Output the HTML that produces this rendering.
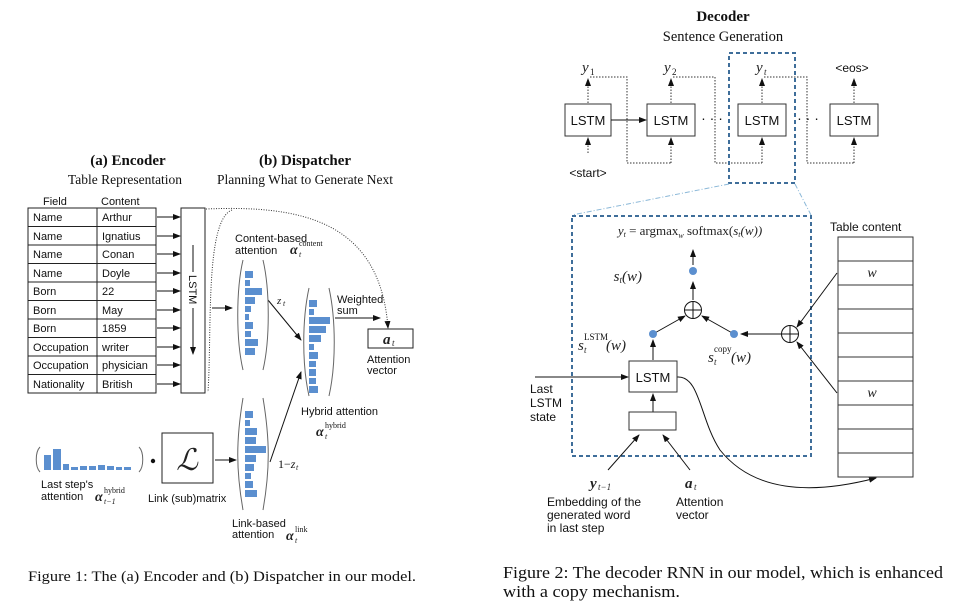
<!DOCTYPE html>
<html><head><meta charset="utf-8"><style>
body{margin:0;background:#fff}
svg{display:block}
.s{font-family:"Liberation Sans",sans-serif;fill:#111}
.r{font-family:"Liberation Serif",serif;fill:#111}
.m{font-family:"Liberation Serif",serif;font-style:italic;fill:#222}
.b{fill:#5b8fcf}
</style></head><body>
<svg width="967" height="612" viewBox="0 0 967 612" xmlns="http://www.w3.org/2000/svg">
<defs>
<marker id="a" markerWidth="8" markerHeight="6" refX="7" refY="3" orient="auto" markerUnits="userSpaceOnUse"><path d="M0,0 L8,3 L0,6 Z" fill="#111"/></marker>
</defs>
<!-- ===== Figure 1 ===== -->
<text class="r" x="128" y="165" font-size="15" font-weight="bold" text-anchor="middle">(a) Encoder</text>
<text class="r" x="125" y="184" font-size="13.5" text-anchor="middle">Table Representation</text>
<text class="r" x="305" y="165" font-size="15" font-weight="bold" text-anchor="middle">(b) Dispatcher</text>
<text class="r" x="305" y="184" font-size="13.5" text-anchor="middle">Planning What to Generate Next</text>
<text class="s" x="43" y="205" font-size="11">Field</text>
<text class="s" x="101" y="205" font-size="11">Content</text>
<g stroke="#222" stroke-width="1" fill="none">
<rect x="28" y="208" width="128" height="185"/>
<line x1="97" y1="208" x2="97" y2="393"/>
<path d="M28,226.5H156M28,245H156M28,263.5H156M28,282H156M28,300.5H156M28,319H156M28,337.5H156M28,356H156M28,374.5H156"/>
<rect x="181" y="208" width="24" height="185"/>
</g>
<g class="s" font-size="11">
<text x="33" y="221">Name</text><text x="102" y="221">Arthur</text>
<text x="33" y="240">Name</text><text x="102" y="240">Ignatius</text>
<text x="33" y="258">Name</text><text x="102" y="258">Conan</text>
<text x="33" y="277">Name</text><text x="102" y="277">Doyle</text>
<text x="33" y="295">Born</text><text x="102" y="295">22</text>
<text x="33" y="314">Born</text><text x="102" y="314">May</text>
<text x="33" y="332">Born</text><text x="102" y="332">1859</text>
<text x="33" y="351">Occupation</text><text x="102" y="351">writer</text>
<text x="33" y="369">Occupation</text><text x="102" y="369">physician</text>
<text x="33" y="388">Nationality</text><text x="102" y="388">British</text>
</g>
<g stroke="#111" stroke-width="1" marker-end="url(#a)">
<line x1="157" y1="217" x2="180" y2="217"/><line x1="157" y1="236" x2="180" y2="236"/>
<line x1="157" y1="254" x2="180" y2="254"/><line x1="157" y1="273" x2="180" y2="273"/>
<line x1="157" y1="291" x2="180" y2="291"/><line x1="157" y1="310" x2="180" y2="310"/>
<line x1="157" y1="328" x2="180" y2="328"/><line x1="157" y1="347" x2="180" y2="347"/>
<line x1="157" y1="365" x2="180" y2="365"/><line x1="157" y1="384" x2="180" y2="384"/>
<line x1="193" y1="245" x2="193" y2="354"/>
<line x1="212" y1="308" x2="232" y2="308"/>
<line x1="268" y1="300" x2="301" y2="340"/>
<line x1="270" y1="462" x2="301" y2="372"/>
<line x1="335" y1="318" x2="380" y2="318"/>
<line x1="215" y1="460" x2="236" y2="460"/>
</g>
<rect x="184" y="272" width="18" height="36" fill="#fff"/>
<text class="s" font-size="11" transform="translate(189,275) rotate(90)">LSTM</text>
<g fill="none" stroke="#333" stroke-width="1" stroke-dasharray="1,1.5">
<path d="M206,209 C300,205 380,220 388,328" marker-end="url(#a)"/>
<path d="M232,210 C205,220 212,330 208,392"/>
</g>
<g fill="none" stroke="#666" stroke-width="1">
<path d="M243,260 C236,290 236,340 243,370"/><path d="M263,260 C270,290 270,340 263,370"/>
<path d="M309,288 C302,320 302,365 309,396"/><path d="M329,288 C336,320 336,365 329,396"/>
<path d="M243,398 C236,440 236,470 243,510"/><path d="M263,398 C270,440 270,470 263,510"/>
<path d="M40,447 C35,452 35,467 40,472"/><path d="M139,447 C144,452 144,467 139,472"/>
</g>
<g class="b">
<rect x="245" y="271" width="8" height="7"/><rect x="245" y="280" width="5" height="6"/>
<rect x="245" y="288" width="17" height="7"/><rect x="245" y="297" width="10" height="7"/>
<rect x="245" y="306" width="6" height="6"/><rect x="245" y="314" width="4" height="6"/>
<rect x="245" y="322" width="8" height="7"/><rect x="245" y="331" width="6" height="6"/>
<rect x="245" y="339" width="13" height="7"/><rect x="245" y="348" width="10" height="7"/>
<rect x="309" y="300" width="8" height="7"/><rect x="309" y="309" width="5" height="6"/>
<rect x="309" y="317" width="21" height="7"/><rect x="309" y="326" width="17" height="7"/>
<rect x="309" y="335" width="12" height="7"/><rect x="309" y="344" width="5" height="6"/>
<rect x="309" y="352" width="9" height="7"/><rect x="309" y="361" width="7" height="6"/>
<rect x="309" y="369" width="7" height="7"/><rect x="309" y="378" width="7" height="6"/>
<rect x="309" y="386" width="9" height="7"/>
<rect x="245" y="411" width="8" height="7"/><rect x="245" y="420" width="5" height="6"/>
<rect x="245" y="428" width="12" height="7"/><rect x="245" y="437" width="11" height="7"/>
<rect x="245" y="446" width="21" height="7"/><rect x="245" y="455" width="11" height="7"/>
<rect x="245" y="464" width="9" height="7"/><rect x="245" y="473" width="6" height="6"/>
<rect x="245" y="481" width="8" height="7"/><rect x="245" y="490" width="12" height="7"/>
<rect x="44" y="455" width="7" height="15"/><rect x="53" y="449" width="8" height="21"/>
<rect x="63" y="464" width="6" height="6"/><rect x="71" y="467" width="7" height="3"/>
<rect x="80" y="466" width="7" height="4"/><rect x="89" y="466" width="7" height="4"/>
<rect x="98" y="465" width="7" height="5"/><rect x="107" y="466" width="7" height="4"/>
<rect x="116" y="467" width="6" height="3"/><rect x="124" y="467" width="7" height="3"/>
</g>
<text class="s" x="235" y="242" font-size="11">Content-based</text>
<text class="s" x="235" y="254" font-size="11">attention</text>
<text class="m" x="290" y="254" font-size="14" font-weight="bold">α</text>
<text class="m" x="299" y="257" font-size="8">t</text>
<text class="r" x="299" y="246" font-size="8">content</text>
<text class="m" x="277" y="304" font-size="11">z</text><text class="m" x="283" y="306" font-size="8">t</text>
<text class="s" x="337" y="303" font-size="11">Weighted</text>
<text class="s" x="337" y="314" font-size="11">sum</text>
<rect x="368" y="329" width="45" height="19" fill="none" stroke="#222"/>
<text class="m" x="383" y="344" font-size="15" font-weight="bold">a</text><text class="m" x="392" y="346" font-size="9">t</text>
<text class="s" x="367" y="363" font-size="11">Attention</text>
<text class="s" x="367" y="374" font-size="11">vector</text>
<text class="s" x="301" y="415" font-size="11">Hybrid attention</text>
<text class="m" x="316" y="436" font-size="14" font-weight="bold">α</text>
<text class="m" x="325" y="439" font-size="8">t</text>
<text class="r" x="325" y="428" font-size="8">hybrid</text>
<text class="r" x="278" y="468" font-size="12">1−<tspan font-style="italic">z</tspan></text><text class="m" x="296" y="470" font-size="8">t</text>
<circle cx="153" cy="461" r="2.2" fill="#111"/>
<rect x="162" y="433" width="51" height="50" fill="none" stroke="#222"/>
<text class="m" x="187" y="470" font-size="30" text-anchor="middle">ℒ</text>
<text class="s" x="41" y="488" font-size="11">Last step's</text>
<text class="s" x="41" y="500" font-size="11">attention</text>
<text class="m" x="95" y="501" font-size="14" font-weight="bold">α</text>
<text class="m" x="104" y="504" font-size="8">t−1</text>
<text class="r" x="104" y="493" font-size="8">hybrid</text>
<text class="s" x="148" y="502" font-size="11">Link (sub)matrix</text>
<text class="s" x="232" y="527" font-size="11">Link-based</text>
<text class="s" x="232" y="538" font-size="11">attention</text>
<text class="m" x="286" y="540" font-size="14" font-weight="bold">α</text>
<text class="m" x="295" y="543" font-size="8">t</text>
<text class="r" x="295" y="532" font-size="8">link</text>
<text class="r" x="28" y="581" font-size="15" textLength="388" lengthAdjust="spacingAndGlyphs">Figure 1: The (a) Encoder and (b) Dispatcher in our model.</text>

<!-- ===== Figure 2 ===== -->
<text class="r" x="723" y="21" font-size="15" font-weight="bold" text-anchor="middle">Decoder</text>
<text class="r" x="723" y="41" font-size="14.5" text-anchor="middle">Sentence Generation</text>
<g fill="none" stroke="#333">
<rect x="565" y="104" width="46" height="32"/><rect x="647" y="104" width="48" height="32"/>
<rect x="738" y="104" width="48" height="32"/><rect x="830" y="104" width="48" height="32"/>
</g>
<g class="s" font-size="13" text-anchor="middle">
<text x="588" y="125">LSTM</text><text x="671" y="125">LSTM</text><text x="762" y="125">LSTM</text><text x="854" y="125">LSTM</text>
</g>
<g class="m" font-size="15">
<text x="582" y="72">y</text><text x="664" y="72">y</text><text x="756" y="72">y</text>
</g>
<g class="r" font-size="9"><text x="590" y="75">1</text><text x="672" y="75">2</text></g>
<text class="m" x="764" y="75" font-size="9">t</text>
<text class="s" x="852" y="72" font-size="12" text-anchor="middle">&lt;eos&gt;</text>
<text class="s" x="588" y="177" font-size="12" text-anchor="middle">&lt;start&gt;</text>
<g fill="none" stroke="#333" stroke-dasharray="1.5,1.5">
<path d="M588,103V79" marker-end="url(#a)"/><path d="M671,103V79" marker-end="url(#a)"/>
<path d="M762,103V79" marker-end="url(#a)"/><path d="M854,103V79" marker-end="url(#a)"/>
<path d="M588,153V138" marker-end="url(#a)"/><path d="M671,163V138" marker-end="url(#a)"/>
<path d="M762,163V138" marker-end="url(#a)"/><path d="M854,163V138" marker-end="url(#a)"/>
<path d="M590,77H627V163H671"/><path d="M673,77H715V163H762"/><path d="M764,77H807V163H854"/>
</g>
<line x1="611" y1="120" x2="646" y2="120" stroke="#111" marker-end="url(#a)"/>
<text class="s" x="712" y="123" font-size="14" text-anchor="middle">· · ·</text>
<text class="s" x="808" y="123" font-size="14" text-anchor="middle">· · ·</text>
<g fill="none" stroke="#3f6e9a" stroke-width="2" stroke-dasharray="4,3">
<rect x="729" y="53" width="66" height="130"/>
<rect x="572" y="216" width="239" height="240"/>
</g>
<g stroke="#8bb8d8" stroke-width="1" stroke-dasharray="5,2,1,2">
<line x1="729" y1="184" x2="572" y2="215"/><line x1="795" y1="184" x2="811" y2="215"/>
</g>
<text class="m" x="690" y="235" font-size="13" text-anchor="middle">y<tspan font-size="8" dy="2">t</tspan><tspan font-style="normal" dy="-2"> = argmax</tspan><tspan font-size="8" dy="3">w</tspan><tspan font-style="normal" dy="-3"> softmax(</tspan>s<tspan font-size="8" dy="2">t</tspan><tspan dy="-2">(w))</tspan></text>
<g stroke="#111" fill="none">
<line x1="693" y1="300" x2="693" y2="282" marker-end="url(#a)"/>
<line x1="693" y1="265" x2="693" y2="250" marker-end="url(#a)"/>
<line x1="653" y1="334" x2="685" y2="316" marker-end="url(#a)"/>
<line x1="734" y1="334" x2="702" y2="316" marker-end="url(#a)"/>
<line x1="653" y1="360" x2="653" y2="340" marker-end="url(#a)"/>
<line x1="782" y1="334" x2="741" y2="334" marker-end="url(#a)"/>
<line x1="653" y1="412" x2="653" y2="394" marker-end="url(#a)"/>
<line x1="535" y1="377" x2="628" y2="377" marker-end="url(#a)"/>
<line x1="608" y1="470" x2="639" y2="435" marker-end="url(#a)"/>
<line x1="690" y1="470" x2="663" y2="435" marker-end="url(#a)"/>
<line x1="837" y1="273" x2="797" y2="327" marker-end="url(#a)"/>
<line x1="837" y1="393" x2="797" y2="342" marker-end="url(#a)"/>
<path d="M677,377 C700,375 700,420 720,450 C760,500 830,490 876,478" marker-end="url(#a)"/>
<circle cx="693" cy="310" r="8.5"/><path d="M684.5,310H701.5M693,301.5V318.5"/>
<circle cx="790" cy="334" r="8.5"/><path d="M781.5,334H798.5M790,325.5V342.5"/>
</g>
<circle cx="693" cy="271" r="4" class="b"/>
<circle cx="653" cy="334" r="4" class="b"/>
<circle cx="734" cy="334" r="4" class="b"/>
<text class="m" x="642" y="281" font-size="15" text-anchor="end">s<tspan font-size="9" dy="2">t</tspan><tspan dy="-2">(w)</tspan></text>
<text class="m" x="578" y="350" font-size="15">s</text><text class="m" x="584" y="353" font-size="9">t</text>
<text class="r" x="584" y="340" font-size="9">LSTM</text>
<text class="m" x="606" y="350" font-size="15">(w)</text>
<text class="m" x="708" y="362" font-size="15">s</text><text class="m" x="714" y="365" font-size="9">t</text>
<text class="r" x="714" y="352" font-size="9">copy</text>
<text class="m" x="731" y="362" font-size="15">(w)</text>
<rect x="629" y="361" width="48" height="31" fill="none" stroke="#333"/>
<text class="s" x="653" y="382" font-size="13" text-anchor="middle">LSTM</text>
<rect x="629" y="412" width="47" height="18" fill="none" stroke="#333"/>
<text class="s" x="530" y="393" font-size="12">Last</text>
<text class="s" x="530" y="407" font-size="12">LSTM</text>
<text class="s" x="530" y="421" font-size="12">state</text>
<text class="m" x="590" y="488" font-size="15" font-weight="bold">y</text><text class="m" x="598" y="490" font-size="9">t−1</text>
<text class="m" x="685" y="488" font-size="15" font-weight="bold">a</text><text class="m" x="694" y="490" font-size="9">t</text>
<text class="s" x="547" y="506" font-size="12">Embedding of the</text>
<text class="s" x="547" y="519" font-size="12">generated word</text>
<text class="s" x="547" y="532" font-size="12">in last step</text>
<text class="s" x="676" y="506" font-size="12">Attention</text>
<text class="s" x="676" y="519" font-size="12">vector</text>
<text class="s" x="830" y="231" font-size="12">Table content</text>
<g fill="none" stroke="#333">
<rect x="838" y="237" width="75" height="240"/>
<path d="M838,261H913M838,285H913M838,309H913M838,333H913M838,357H913M838,381H913M838,405H913M838,429H913M838,453H913"/>
</g>
<text class="m" x="872" y="277" font-size="14" text-anchor="middle">w</text>
<text class="m" x="872" y="397" font-size="14" text-anchor="middle">w</text>
<text class="r" x="503" y="578" font-size="17" textLength="440" lengthAdjust="spacingAndGlyphs">Figure 2: The decoder RNN in our model, which is enhanced</text>
<text class="r" x="503" y="597" font-size="17" textLength="177" lengthAdjust="spacingAndGlyphs">with a copy mechanism.</text>
</svg>
</body></html>
